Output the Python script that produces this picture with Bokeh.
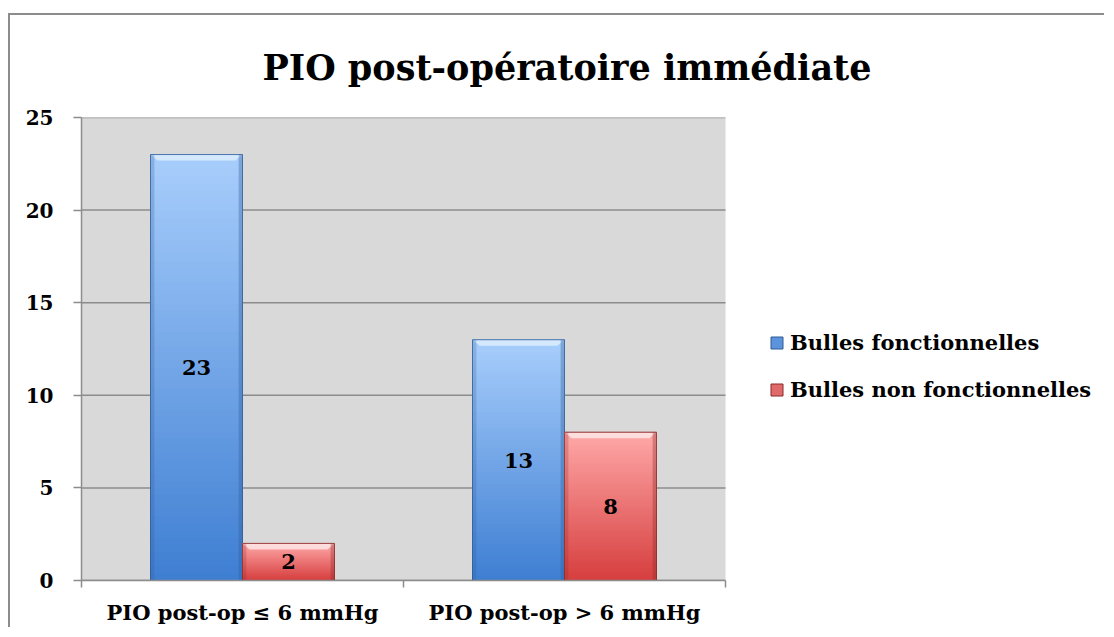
from bokeh.plotting import figure
from bokeh.models import (Range1d, FixedTicker, Legend, LegendItem, LabelSet,
                          ColumnDataSource)
from bokeh.core.properties import value
from bokeh.embed import file_html
from bokeh.resources import INLINE

# ---------------- data ----------------
categories = ["PIO post-op \u2264 6 mmHg", "PIO post-op > 6 mmHg"]
series_names = ["Bulles fonctionnelles", "Bulles non fonctionnelles"]
functional = [23, 13]
non_functional = [2, 8]
y_ticks = [0, 5, 10, 15, 20, 25]
title_text = "PIO post-op\u00e9ratoire imm\u00e9diate"

series_values = [functional, non_functional]
# gradient colours (top, bottom), outline, legend colour per series
series_style = [
    dict(top=(168, 206, 252), bottom=(62, 126, 210), edge="#2f5d96",
         hi="#e4f2ff", legend="#5b93dd"),
    dict(top=(255, 168, 168), bottom=(214, 62, 62), edge="#8a2b2b",
         hi="#fff0f0", legend="#e06a6a"),
]

FONT = "DejaVu Serif"
GRID = "#8c8c8c"
n_cat = len(categories)

p = figure(width=1096, height=614, output_backend="svg", toolbar_location=None,
           x_range=Range1d(0, 3.1832), y_range=Range1d(0, 25),
           min_border_left=71, min_border_right=0, min_border_top=102,
           min_border_bottom=49)
p.styles = {"border-top": "2px solid #8c8c8c", "border-left": "2px solid #8c8c8c",
            "margin-top": "13px", "margin-left": "8px"}
p.background_fill_color = "white"
p.outline_line_color = None
p.border_fill_color = "white"

# plot-area background and gridlines limited to the category span
p.quad(left=[0], right=[n_cat], bottom=[y_ticks[0]], top=[y_ticks[-1]],
       fill_color="#d9d9d9", line_color=None, level="underlay")
p.segment(x0=[0] * len(y_ticks), x1=[n_cat] * len(y_ticks), y0=y_ticks, y1=y_ticks,
          line_color=GRID, line_width=1.5, level="underlay")

# title
p.title.text = title_text
p.title.text_font = FONT
p.title.text_font_style = "bold"
p.title.text_font_size = "35px"
p.title.text_color = "black"
p.title.align = "left"
p.title.offset = 181
p.title.standoff = 59

n_series = len(series_values)
bar_w = 1 / 3.5
N = 60
legend_renderers = []
for s, vals in enumerate(series_values):
    st = series_style[s]
    L, R, B, T, C = [], [], [], [], []
    EL, ER, ET = [], [], []
    px, py = [], []
    for i, v in enumerate(vals):
        center = i + 0.5 + (s - (n_series - 1) / 2) * bar_w
        left = center - bar_w / 2
        right = center + bar_w / 2
        for k in range(N):
            f = (k + 0.5) / N
            col = tuple(int(round(st["bottom"][c] + (st["top"][c] - st["bottom"][c]) * f)) for c in range(3))
            L.append(left); R.append(right)
            B.append(v * k / N); T.append(v)
            C.append("#%02x%02x%02x" % col)
        EL.append(left); ER.append(right); ET.append(v)
        d = 0.022
        h = 0.32
        px.append([left, right, right - d, left + d])
        py.append([v, v, v - h, v - h])
    base = p.quad(left=EL, right=ER, bottom=0, top=ET, fill_color=st["legend"],
                  line_color=st["edge"], line_width=1)
    legend_renderers.append(base)
    p.quad(left=L, right=R, bottom=B, top=T, fill_color=C, line_color=None)
    p.patches(px, py, fill_color=st["hi"], fill_alpha=0.75, line_color=None)
    # darker side edges
    p.quad(left=EL, right=[l + 0.012 for l in EL], bottom=0, top=ET,
           fill_color=st["edge"], fill_alpha=0.25, line_color=None)
    p.quad(left=[r - 0.012 for r in ER], right=ER, bottom=0, top=ET,
           fill_color=st["edge"], fill_alpha=0.35, line_color=None)
    p.quad(left=EL, right=ER, bottom=0, top=ET, fill_color=None,
           line_color=st["edge"], line_width=1, line_alpha=0.8)

    src = ColumnDataSource(dict(
        x=[i + 0.5 + (s - (n_series - 1) / 2) * bar_w for i in range(len(vals))],
        y=[v / 2 for v in vals],
        t=[str(v) for v in vals]))
    p.add_layout(LabelSet(x="x", y="y", text="t", source=src,
                          text_font=value(FONT), text_font_style="bold",
                          text_font_size="21px", text_align="center",
                          text_baseline="middle", text_color="black"))

# legend
items = [LegendItem(label=name, renderers=[legend_renderers[s]])
         for s, name in enumerate(series_names)]
legend = Legend(items=items, location=(688, 178), glyph_width=15, glyph_height=15,
                label_standoff=6, spacing=22, padding=0, margin=0,
                label_text_font=FONT, label_text_font_style="bold",
                label_text_font_size="21px", label_text_color="black",
                background_fill_alpha=0, border_line_color=None)
p.add_layout(legend, "center")

# axes
p.yaxis.ticker = FixedTicker(ticks=y_ticks)
p.yaxis.major_label_text_font = FONT
p.yaxis.major_label_text_font_style = "bold"
p.yaxis.major_label_text_font_size = "20px"
p.yaxis.major_label_text_color = "black"
p.yaxis.major_label_standoff = 20
p.yaxis.major_tick_out = 8
p.yaxis.major_tick_in = 0
p.yaxis.minor_tick_out = 0
p.yaxis.minor_tick_in = 0
p.yaxis.axis_line_color = GRID
p.yaxis.axis_line_width = 1.5
p.yaxis.major_tick_line_color = GRID
p.yaxis.major_tick_line_width = 1.5

p.xaxis.bounds = (0, n_cat)
p.xaxis.ticker = FixedTicker(ticks=[i + 0.5 for i in range(n_cat)],
                             minor_ticks=list(range(n_cat + 1)))
p.xaxis.major_label_overrides = {i + 0.5: c for i, c in enumerate(categories)}
p.xaxis.major_label_text_font = FONT
p.xaxis.major_label_text_font_style = "bold"
p.xaxis.major_label_text_font_size = "21px"
p.xaxis.major_label_text_color = "black"
p.xaxis.major_label_standoff = 12
p.xaxis.major_tick_out = 0
p.xaxis.major_tick_in = 0
p.xaxis.minor_tick_out = 7
p.xaxis.minor_tick_in = 0
p.xaxis.minor_tick_line_color = GRID
p.xaxis.minor_tick_line_width = 1.5
p.xaxis.axis_line_color = GRID
p.xaxis.axis_line_width = 1.5

p.xgrid.grid_line_color = None
p.ygrid.grid_line_color = None

open("out.html", "w").write(file_html(p, INLINE))
